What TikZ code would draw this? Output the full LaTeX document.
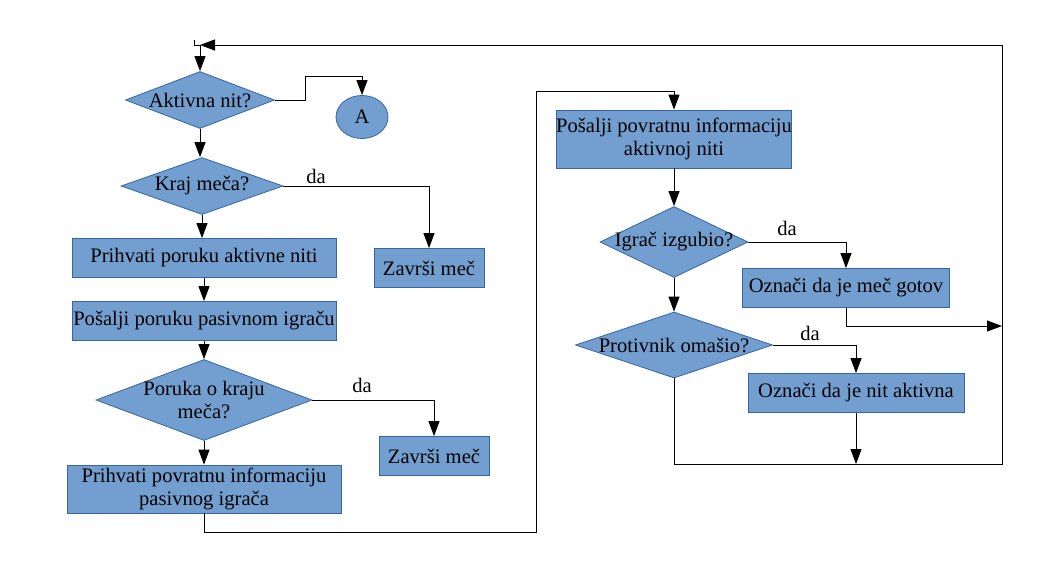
\documentclass[tikz,border=0pt]{standalone}
\usepackage{fontspec}
\setmainfont{Liberation Serif}
\usetikzlibrary{shapes.geometric,arrows.meta,calc}
\definecolor{boxfill}{HTML}{729FCF}
\definecolor{boxline}{HTML}{3465A4}
\begin{document}
\begin{tikzpicture}[x=1pt,y=-1pt,
  txtfont/.style={font=\fontsize{20.6}{23}\selectfont},
  base/.style={draw=boxline, fill=boxfill, line width=0.8pt, inner sep=0pt, txtfont, align=center},
  proc/.style={base, rectangle},
  dec/.style={base, diamond},
  term/.style={base, ellipse},
  lbl/.style={txtfont, inner sep=0pt, align=center},
  conn/.style={line width=1pt, -{Triangle[length=15pt,width=11pt]}},
  plain/.style={line width=1pt}]
\useasboundingbox (0,0) rectangle (1056,576);

% nodes
\coordinate (jtop) at (200,45);
\coordinate (tick) at (194,40);
\node[dec, minimum width=149pt, minimum height=57pt, label={[lbl]center:Aktivna nit?}] (d1) at (200,100) {};
\node[term, minimum width=52pt, minimum height=43pt] (cA) at (362,117) {A};
\node[dec, minimum width=162pt, minimum height=57pt, label={[lbl]center:Kraj meča?}] (d2) at (202,186) {};
\node[proc, minimum width=110pt, minimum height=39pt] (z1) at (429,268) {Završi meč};
\node[proc, minimum width=264pt, minimum height=39pt] (b1) at (204,258) {Prihvati poruku aktivne niti};
\node[proc, minimum width=264pt, minimum height=39pt] (b2) at (204,321) {Pošalji poruku pasivnom igraču};
\node[dec, minimum width=216pt, minimum height=81pt, label={[lbl]center:Poruka o kraju\\meča?}] (d3) at (204,400) {};
\node[proc, minimum width=110pt, minimum height=39pt] (z2) at (434,456) {Završi meč};
\node[proc, minimum width=274pt, minimum height=48pt] (b3) at (204,489) {Prihvati povratnu informaciju\\pasivnog igrača};
\node[proc, minimum width=235pt, minimum height=58pt] (b4) at (674,139) {Pošalji povratnu informaciju\\aktivnoj niti};
\node[dec, minimum width=148pt, minimum height=71pt, label={[lbl]center:Igrač izgubio?}] (d4) at (674,242) {};
\node[proc, minimum width=207pt, minimum height=39pt] (b5) at (846,288) {Označi da je meč gotov};
\node[dec, minimum width=197pt, minimum height=66pt, label={[lbl]center:Protivnik omašio?}] (d5) at (674,345) {};
\node[proc, minimum width=216pt, minimum height=39pt] (b6) at (856,393) {Označi da je nit aktivna};

\node[lbl] (da1) at (316,176) {da};
\node[lbl] (da2) at (362,385) {da};
\node[lbl] (da3) at (787,228) {da};
\node[lbl] (da4) at (810,333) {da};

\coordinate (c1) at (536,532);
\coordinate (c2) at (536,91);
\coordinate (rtop) at (1002,45);
\coordinate (rjoin) at (1002,326);
\coordinate (bjoin) at (856,464);
\coordinate (rbot) at (1002,464);

% connectors
\draw[plain] (tick) |- (jtop);
\draw[conn] (jtop) -- (d1.north);
\draw[conn] (d1.east) -- ++(31,0) |- ([yshift=19pt]cA.north) -- (cA.north);
\draw[conn] (d1.south) -- (d1.south |- d2.north);
\draw[conn] (d2.south) -- (d2.south |- b1.north);
\draw[conn] (d2.east) -| (z1.north);
\draw[conn] (b1.south) -- (b2.north);
\draw[conn] (b2.south) -- (d3.north);
\draw[conn] (d3.east) -| (z2.north);
\draw[conn] (d3.south) -- (b3.north);
\draw[conn] (b3.south) |- (c1) -- (c2) -| (b4.north);
\draw[conn] (b4.south) -- (d4.north);
\draw[conn] (d4.east) -| (b5.north);
\draw[conn] (d4.south) -- (d5.north);
\draw[conn] (d5.east) -| (b6.north);
\draw[conn] (b5.south) |- (rjoin);
\draw[conn] (b6.south) -- (bjoin);
\draw[conn] (d5.south) |- (rbot) -- (rtop) -- (jtop);
\end{tikzpicture}
\end{document}
